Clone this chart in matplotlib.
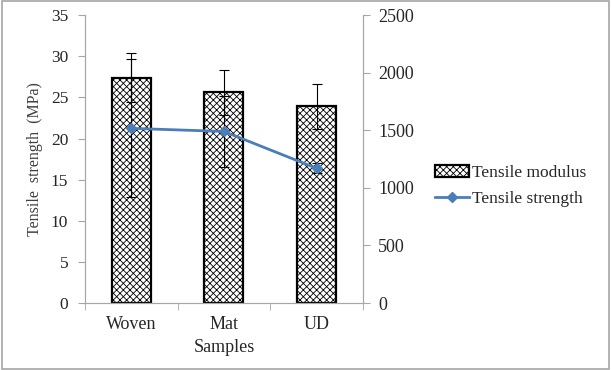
import matplotlib.pyplot as plt
from matplotlib.patches import Rectangle, Patch
from matplotlib.lines import Line2D

plt.rcParams['font.family'] = 'Liberation Serif'
plt.rcParams['hatch.linewidth'] = 0.6

# Data
samples = ["Woven", "Mat", "UD"]
modulus = [27.4, 25.6, 23.9]          # left axis (MPa)
modulus_err = [3.0, 2.7, 2.7]
strength = [1517, 1490, 1170]         # right axis
strength_err = [600, 307, 45]

x = range(len(samples))
grey = "#a6a6a6"
txt = "#262626"

fig = plt.figure(figsize=(6.11, 3.70), dpi=100)
ax = fig.add_axes([0.139, 0.181, 0.455, 0.778])
ax2 = ax.twinx()

ax.bar(x, modulus, width=0.42, color="white", edgecolor="black", linewidth=1.6,
       hatch="xxxxx", zorder=2)
ax.errorbar(x, modulus, yerr=modulus_err, fmt="none", ecolor="black",
            elinewidth=0.8, capsize=3.5, capthick=0.8, zorder=3)

ax2.errorbar(x, strength, yerr=strength_err, fmt="none", ecolor="black",
             elinewidth=0.8, capsize=3.5, capthick=0.8, zorder=3)
ax2.plot(x, strength, color="#4a7ebb", linewidth=2, marker="D", markersize=5,
         zorder=4)

ax.set_xlim(-0.5, 2.5)
ax.set_ylim(0, 35)
ax.set_yticks(range(0, 36, 5))
ax2.set_ylim(0, 2500)
ax2.set_yticks(range(0, 2501, 500))

ax.set_xticks(list(x))
ax.set_xticklabels(samples, fontsize=13)
ax.set_xticks([-0.5, 0.5, 1.5, 2.5], minor=True)
ax.tick_params(axis="x", which="major", length=0, pad=9, labelcolor=txt)
ax.tick_params(axis="x", which="minor", length=5, color=grey)
ax.tick_params(axis="y", length=5, color=grey, labelsize=12.5, pad=7, labelcolor=txt)
ax2.tick_params(axis="y", length=5, color=grey, labelsize=13, pad=6, labelcolor=txt)

for a in (ax, ax2):
    a.spines["top"].set_visible(False)
    for s in ("left", "right", "bottom"):
        a.spines[s].set_color(grey)

ax.set_xlabel("Samples", fontsize=13, labelpad=5, color=txt)
ax.set_ylabel("Tensile  strength  (MPa)", fontsize=11.5, labelpad=6, color="#404040")

handles = [
    Patch(facecolor="white", edgecolor="black", hatch="xxxxx", linewidth=1.6),
    Line2D([], [], color="#4a7ebb", linewidth=2, marker="D", markersize=5),
]
fig.legend(handles, ["Tensile modulus", "Tensile strength"], loc="center left",
           bbox_to_anchor=(0.686, 0.497), frameon=False, fontsize=12.5,
           handlelength=2.0, handletextpad=0.15, labelspacing=0.55,
           labelcolor=txt)

fig.add_artist(Rectangle((0.004, 0.003), 0.992, 0.994, transform=fig.transFigure,
                         fill=False, edgecolor=grey, linewidth=1.2))

fig.savefig("out.png", dpi=100)
